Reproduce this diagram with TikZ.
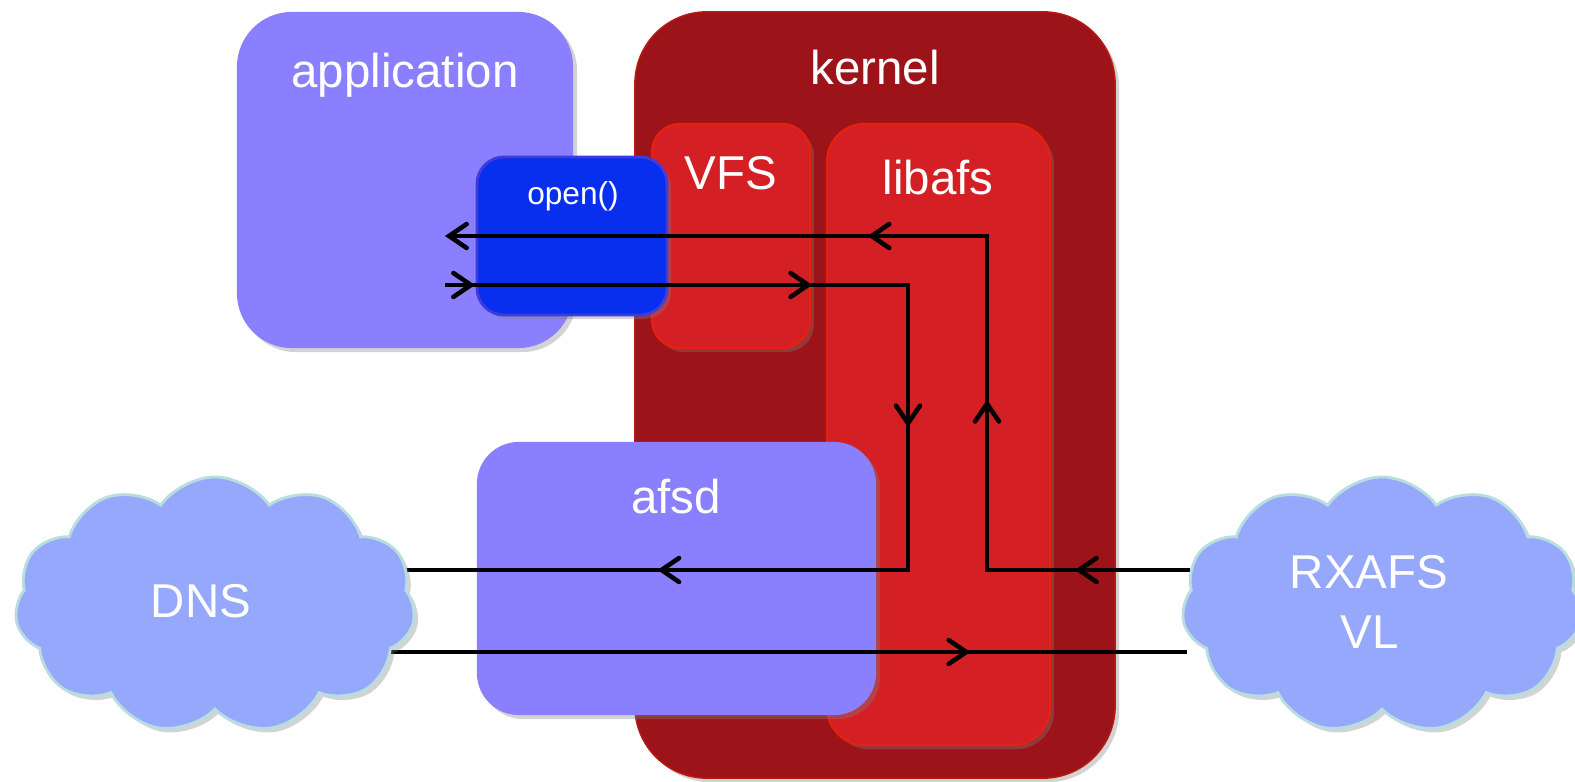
\documentclass[tikz,border=0pt]{standalone}
\usepackage{fontspec}
\setmainfont{Liberation Sans}
\usetikzlibrary{arrows.meta, shapes.symbols, shadows, decorations.markings, positioning}

\definecolor{userblue}{RGB}{138,128,255}
\definecolor{kernred}{RGB}{156,20,25}
\definecolor{kernedge}{RGB}{190,24,20}
\definecolor{modred}{RGB}{212,31,36}
\definecolor{modedge}{RGB}{232,32,16}
\definecolor{callblue}{RGB}{8,46,238}
\definecolor{calledge}{RGB}{60,60,224}
\definecolor{cloudfill}{RGB}{150,168,252}
\definecolor{cloudedge}{RGB}{184,221,224}

\tikzset{
  boxshadow/.style={drop shadow={opacity=0.35, shadow xshift=0.04cm, shadow yshift=-0.04cm}},
  userbox/.style={rectangle, fill=userblue, boxshadow, inner sep=0},
  kernbox/.style={rectangle, fill=kernred, draw=kernedge, line width=0.4pt, boxshadow, inner sep=0},
  modbox/.style={rectangle, fill=modred, draw=modedge, line width=0.6pt, boxshadow, inner sep=0},
  callbox/.style={rectangle, fill=callblue, draw=calledge, line width=0.8pt, boxshadow, inner sep=0},
  netcloud/.style={cloud, cloud puffs=11, cloud puff arc=110, aspect=1.56, fill=cloudfill, draw=cloudedge, line width=0.8pt, boxshadow, minimum width=4cm, minimum height=2.56cm, inner sep=0},
  title/.style={text=white, font=\fontsize{13.5pt}{17pt}\selectfont, anchor=base, inner sep=0},
  flow/.style={line width=1.3pt, line join=miter, postaction={decorate}},
  tip/.tip={Straight Barb[length=5pt, width=6.8pt, line width=1.3pt, line cap=round]}
}

\begin{document}
\begin{tikzpicture}[x=0.01cm, y=-0.01cm]
  \useasboundingbox (0,0) rectangle (1575,782);
  % boxes
  \node[kernbox, minimum width=4.8cm, minimum height=7.66cm, rounded corners=0.72cm] (kernel) at (875,395) {};
  \node[modbox, minimum width=1.58cm, minimum height=2.24cm, rounded corners=0.28cm] (vfs) at (731,236) {};
  \node[modbox, minimum width=2.23cm, minimum height=6.21cm, rounded corners=0.38cm] (libafs) at (938.5,434.5) {};
  \node[userbox, minimum width=3.36cm, minimum height=3.36cm, rounded corners=0.55cm] (app) at (405,180) {};
  \node[callbox, minimum width=1.90cm, minimum height=1.58cm, rounded corners=0.27cm] (open) at (572,236) {};
  \node[userbox, minimum width=3.99cm, minimum height=2.73cm, rounded corners=0.42cm] (afsd) at (676.5,578.5) {};

  \node[title] at (405,88) {application};
  \node[title] at (875,85) {kernel};
  \node[title] at (731,190) {VFS};
  \node[title] at (938,195) {libafs};
  \node[title, font=\fontsize{9pt}{11pt}\selectfont] at (573,205) {open()};
  \node[title] at (676,513) {afsd};

  % connectors
  \coordinate (appin) at (445,285);
  \coordinate (appout) at (445,236);
  \coordinate (vfsturn) at (908,285);
  \coordinate (afsdturn) at (908,570);
  \coordinate (dnsq) at (405,570);
  \coordinate (dnsa) at (370,652);
  \coordinate (rxq) at (1187,652);
  \coordinate (rxa) at (1190,570);
  \coordinate (libturn) at (987,570);
  \coordinate (upturn) at (987,236);

  \draw[flow, decoration={markings,
      mark=at position 0.30cm with {\arrow{tip}},
      mark=at position 3.67cm with {\arrow{tip}},
      mark=at position 6.05cm with {\arrow{tip}},
      mark=at position 9.98cm with {\arrow{tip}}}]
    (appin) -- (vfsturn) -- (afsdturn) -- (dnsq);
  \draw[flow, -tip, decoration={markings,
      mark=at position 1.15cm with {\arrow{tip}},
      mark=at position 3.73cm with {\arrow{tip}},
      mark=at position 6.56cm with {\arrow{tip}}}]
    (rxa) -- (libturn) -- (upturn) -- (appout);
  \draw[flow, decoration={markings,
      mark=at position 6.00cm with {\arrow{tip}}}]
    (dnsa) -- (rxq);

  % clouds
  \node[netcloud] (dns) at (215,605) {};
  \node[netcloud] (rx) at (1382,605) {};
  \node[title] at (201,617) {DNS};
  \node[title] at (1369,588) {RXAFS};
  \node[title] at (1370,648) {VL};
\end{tikzpicture}
\end{document}
